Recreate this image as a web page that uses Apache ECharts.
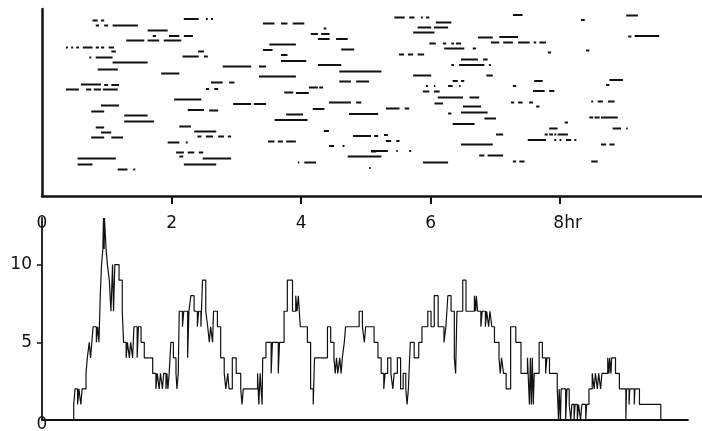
<!DOCTYPE html>
<html><head><meta charset="utf-8">
<script src="https://cdn.jsdelivr.net/npm/echarts@6/dist/echarts.min.js"></script>
<style>html,body{margin:0;padding:0;background:#fff}#c{width:702px;height:431px}</style>
</head><body><div id="c"></div>
<script>
// time tick labels (hours) and count ticks
const timeTicks = [0, 2, 4, 6, 8];
const timeTickMarks = [2, 4, 6, 8];
const timeUnit = 'hr';
const countTicks = [5, 10];
const bottomTimeLabel = [0];

// top panel: episodes [start hr, end hr, row]
const episodes = [
[0.78,0.86,35.1],[0.91,0.96,35.1],
[0.83,0.88,34.1],[0.96,1.02,34.1],[1.09,1.48,34.1],
[2.19,2.42,35.4],[2.53,2.56,35.4],[2.61,2.64,35.4],
[1.63,1.94,33.1],
[1.71,1.76,32],[1.96,2.12,32],[2.19,2.33,32],
[1.30,1.58,31.1],[1.63,1.81,31.1],[1.88,2.15,31.1],
[0.37,0.40,29.7],[0.45,0.48,29.7],[0.53,0.57,29.7],[0.63,0.78,29.7],[0.83,0.88,29.7],[0.91,0.96,29.7],[1.03,1.11,29.7],
[1.07,1.14,28.9],[2.41,2.50,28.9],
[0.73,0.76,27.7],[0.83,1.09,27.7],[2.17,2.42,27.9],[2.50,2.56,27.9],
[1.09,1.63,26.7],
[0.86,1.17,25.3],
[1.84,2.12,24.5],
[0.60,0.91,22.3],[0.96,1.02,22.2],[1.07,1.19,22.2],
[0.37,0.57,21.3],[0.68,0.76,21.3],[0.80,0.91,21.3],[0.94,1.17,21.3],
[2.53,2.58,21.4],[2.66,2.72,21.4],
[2.04,2.46,19.3],
[0.91,1.19,18.1],
[0.76,0.96,16.9],[2.25,2.50,17.2],[2.58,2.72,17.1],
[1.27,1.63,16.1],
[1.27,1.73,14.9],
[2.12,2.30,13.9],
[0.83,0.96,13.7],[2.35,2.69,12.9],
[0.91,1.07,12.7],
[0.76,0.96,11.7],[1.07,1.25,11.7],
[2.40,2.46,11.9],[2.53,2.64,11.9],[2.72,2.81,11.9],[2.87,2.92,11.9],
[1.94,2.12,10.7],[2.22,2.25,10.7],
[2.07,2.19,8.7],[2.25,2.35,8.7],[2.42,2.49,8.7],
[2.12,2.18,7.9],
[0.55,1.14,7.5],[2.48,2.92,7.5],
[0.55,0.78,6.3],[2.19,2.69,6.3],
[1.17,1.32,5.3],[1.41,1.44,5.3],
[3.41,3.59,34.5],[3.69,3.79,34.5],[3.87,4.05,34.5],
[4.35,4.39,33.5],
[4.15,4.26,32.4],[4.31,4.44,32.4],
[4.26,4.44,31.4],[4.54,4.72,31.4],
[3.51,3.92,30.3],
[3.41,3.56,29.2],[4.62,4.82,29.3],
[3.69,3.79,28.2],
[3.69,4.08,27],
[2.79,3.23,25.9],[3.35,3.46,25.9],[4.26,4.62,26.2],
[4.59,5.24,24.9],
[3.35,3.92,23.9],
[2.61,2.79,22.7],[2.89,2.97,22.7],
[4.59,4.77,22.9],[4.85,5.05,22.9],
[4.12,4.26,21.7],[4.28,4.34,21.7],
[3.74,3.88,20.7],[3.92,4.12,20.6],
[2.95,3.23,18.4],[3.27,3.46,18.4],
[4.43,4.77,18.7],[4.85,4.93,18.7],
[4.18,4.36,17.4],
[3.77,4.03,16.3],[4.74,5.19,16.4],
[3.59,4.10,15.2],
[4.35,4.43,13],
[4.80,5.08,12],[5.13,5.19,12],
[3.49,3.59,10.9],[3.64,3.72,10.9],[3.77,3.92,10.9],
[4.43,4.51,10],[4.64,4.67,10],
[5.08,5.16,8.9],
[4.72,5.24,7.9],
[3.95,3.97,6.7],[4.05,4.23,6.7],
[5.05,5.07,5.6],
[5.44,5.60,35.7],[5.67,5.75,35.7],[5.85,5.88,35.7],[5.93,5.98,35.7],
[7.27,7.42,36.2],
[6.08,6.32,34.7],
[5.80,6.01,33.7],[6.05,6.27,33.7],
[5.73,6.06,32.7],
[6.73,6.96,31.7],[7.06,7.35,31.8],
[5.98,6.08,30.5],[6.19,6.24,30.5],[6.32,6.36,30.5],[6.39,6.47,30.5],
[6.93,7.06,30.7],[7.12,7.27,30.7],[7.35,7.53,30.7],[7.59,7.63,30.7],[7.68,7.78,30.7],
[6.21,6.52,29.5],[6.65,6.70,29.5],
[5.51,5.59,28.3],[5.65,5.73,28.3],[5.80,5.90,28.3],
[6.47,6.73,27.3],[6.81,6.88,27.3],
[6.32,6.36,26.2],[6.44,6.83,26.2],[6.90,6.93,26.2],
[5.73,6.01,24.1],[6.86,6.96,24.1],
[6.34,6.42,23],[6.47,6.52,23],[7.60,7.73,23],
[5.93,5.96,22],[6.05,6.07,22],[6.27,6.34,22],[6.44,6.46,22],[7.27,7.32,22],
[5.88,5.98,20.9],[6.05,6.14,20.9],[7.58,7.76,21],[7.83,7.91,21],
[6.11,6.50,19.7],[6.60,6.75,19.7],
[6.06,6.19,18.5],
[7.24,7.29,18.7],[7.35,7.42,18.7],[7.52,7.58,18.7],
[6.50,6.78,17.9],[7.63,7.68,17.9],
[5.31,5.52,17.5],[5.60,5.67,17.5],
[6.27,6.32,16.5],[6.47,6.88,16.7],
[6.83,7.01,15.5],
[6.34,6.68,14.4],
[5.28,5.34,12.2],
[7.01,7.12,12.3],
[5.31,5.39,11],[5.47,5.52,11],
[7.50,7.78,11.2],[7.91,7.94,11.2],[7.99,8.02,11.2],[8.09,8.17,11.2],[8.22,8.25,11.2],
[6.47,6.96,10.3],
[5.08,5.34,9],[5.47,5.49,9],[5.67,5.70,9],
[6.75,6.83,8.1],[6.88,7.12,8.1],
[5.88,6.27,6.7],
[7.27,7.32,6.9],[7.37,7.45,6.9],
[9.02,9.20,36.1],
[8.32,8.38,35.2],
[9.05,9.10,31.9],[9.15,9.53,32],
[7.81,7.86,28.7],
[8.40,8.45,29.1],
[8.76,8.97,23.2],
[8.71,8.76,22.2],
[8.48,8.51,18.9],[8.58,8.66,18.9],[8.74,8.84,18.9],
[8.45,8.51,15.7],[8.53,8.61,15.7],[8.63,8.89,15.7],
[8.07,8.12,14.7],
[7.83,7.96,13.5],[8.81,8.94,13.5],[9.02,9.04,13.5],
[7.76,7.81,12.3],[7.83,7.89,12.3],[7.91,7.94,12.3],[7.96,8.12,12.3],
[8.63,8.71,10.3],[8.76,8.84,10.3],
[8.48,8.58,6.9]
];

// bottom panel: step counts [hr, count]
const activeCount = [
[0.49,0],[0.49,1],[0.51,2],[0.55,1],[0.57,2],[0.60,1],[0.62,2],[0.68,3],[0.70,4],[0.73,5],[0.75,4],[0.77,5],[0.79,6],[0.84,5],[0.86,6],[0.88,5],[0.90,8],[0.92,10],[0.94,11],[0.95,13],[0.96,11],[0.965,13],[0.99,11],[1.01,10],[1.04,9],[1.065,7],[1.09,10],[1.105,7],[1.125,10],[1.19,9],[1.24,7],[1.26,5],[1.30,4],[1.32,5],[1.35,4],[1.37,5],[1.40,4],[1.42,6],[1.47,4],[1.49,6],[1.53,5],[1.58,4],[1.71,3],[1.76,2],[1.78,3],[1.81,2],[1.83,3],[1.86,2],[1.88,3],[1.915,2],[1.93,3],[1.945,2],[1.965,3],[1.99,5],[2.03,4],[2.07,3],[2.085,2],[2.105,3],[2.12,7],[2.17,6],[2.19,7],[2.25,4],[2.27,7],[2.30,8],[2.35,7],[2.40,6],[2.42,7],[2.455,6],[2.48,9],[2.53,7],[2.56,6],[2.585,5],[2.605,6],[2.635,5],[2.65,7],[2.71,6],[2.76,4],[2.815,3],[2.84,2],[2.87,3],[2.89,2],[2.94,4],[3.00,3],[3.07,2],[3.09,1],[3.11,2],[3.33,3],[3.35,1],[3.37,3],[3.40,1],[3.41,4],[3.46,5],[3.54,3],[3.56,5],[3.65,3],[3.67,5],[3.74,7],[3.79,9],[3.87,7],[3.92,8],[3.94,7],[3.96,8],[3.99,6],[4.10,5],[4.15,2],[4.19,1],[4.21,4],[4.41,6],[4.46,5],[4.51,4],[4.53,3],[4.55,4],[4.57,3],[4.60,4],[4.62,3],[4.64,4],[4.67,5],[4.69,6],[4.90,7],[4.95,6],[4.98,5],[5.00,6],[5.13,5],[5.19,4],[5.24,3],[5.28,2],[5.30,3],[5.34,4],[5.39,3],[5.42,2],[5.44,3],[5.49,4],[5.54,2],[5.58,3],[5.62,2],[5.64,1],[5.66,2],[5.69,5],[5.75,4],[5.82,5],[5.87,6],[5.96,7],[6.01,6],[6.06,8],[6.12,6],[6.21,5],[6.24,6],[6.27,8],[6.32,7],[6.37,4],[6.39,3],[6.41,7],[6.50,9],[6.55,7],[6.68,8],[6.70,7],[6.71,8],[6.73,7],[6.78,6],[6.80,7],[6.85,6],[6.87,7],[6.90,6],[6.92,7],[6.95,6],[6.99,5],[7.06,4],[7.08,3],[7.10,4],[7.13,3],[7.17,2],[7.24,6],[7.32,5],[7.40,3],[7.50,4],[7.53,1],[7.545,4],[7.56,1],[7.575,4],[7.59,1],[7.605,3],[7.68,5],[7.73,4],[7.78,3],[7.80,4],[7.84,3],[7.96,2],[7.98,0],[7.99,2],[8.01,0],[8.02,2],[8.09,0],[8.11,2],[8.145,1],[8.17,0],[8.185,1],[8.22,0],[8.235,1],[8.27,0],[8.29,1],[8.32,0],[8.34,1],[8.40,0],[8.415,1],[8.45,2],[8.50,3],[8.53,2],[8.55,3],[8.58,2],[8.60,3],[8.63,2],[8.65,3],[8.74,4],[8.76,3],[8.77,4],[8.79,3],[8.80,4],[8.86,3],[8.92,2],[9.02,0],[9.03,2],[9.07,1],[9.08,2],[9.15,1],[9.16,2],[9.23,1],[9.56,0]
];

const ink = '#111';
const FONT = 'DejaVu Sans';
const chart = echarts.init(document.getElementById('c'), null, {renderer: 'canvas'});
chart.setOption({
  animation: false,
  backgroundColor: '#fff',
  grid: [
    {left: 42, top: 9, right: 0, bottom: 235, outerBoundsMode: 'none', containLabel: false},
    {left: 42, top: 218, right: 14, bottom: 11, outerBoundsMode: 'none', containLabel: false}
  ],
  xAxis: [
    {gridIndex: 0, type: 'value', min: 0, max: 10.19,
     axisLine: {show: true, lineStyle: {color: ink, width: 2.5}},
     axisTick: {show: true, inside: false, length: 8, customValues: timeTickMarks, lineStyle: {color: ink, width: 2}},
     axisLabel: {show: true, customValues: timeTicks, margin: 19, color: ink, fontFamily: FONT, fontSize: 17,
       formatter: v => v === timeTicks[timeTicks.length - 1] ? '{u|' + v + timeUnit + '}' : String(v),
       rich: {u: {fontFamily: FONT, fontSize: 17, color: ink, padding: [0, 0, 0, 15]}}},
     splitLine: {show: false}},
    {gridIndex: 1, type: 'value', min: 0, max: 9.98,
     axisLine: {show: true, onZero: false, lineStyle: {color: ink, width: 1.8}},
     axisTick: {show: false},
     axisLabel: {show: true, customValues: bottomTimeLabel, margin: -4, color: ink, fontFamily: FONT, fontSize: 17,
       formatter: v => String(v)},
     splitLine: {show: false}}
  ],
  yAxis: [
    {gridIndex: 0, type: 'value', min: 0, max: 37.4,
     axisLine: {show: true, lineStyle: {color: ink, width: 2.5}},
     axisTick: {show: false}, axisLabel: {show: false}, splitLine: {show: false}},
    {gridIndex: 1, type: 'value', min: 0, max: 13,
     axisLine: {show: true, lineStyle: {color: ink, width: 1.8}},
     axisTick: {show: true, inside: false, length: 5, customValues: countTicks, lineStyle: {color: ink, width: 1.5}},
     axisLabel: {show: true, customValues: countTicks, margin: 10, color: ink, fontFamily: FONT, fontSize: 17},
     splitLine: {show: false}}
  ],
  series: [
    {type: 'custom', xAxisIndex: 0, yAxisIndex: 0, data: episodes,
     encode: {x: [0, 1], y: 2},
     renderItem: (params, api) => {
       const a = api.coord([api.value(0), api.value(2)]);
       const b = api.coord([api.value(1), api.value(2)]);
       return {type: 'line', shape: {x1: a[0], y1: a[1], x2: Math.max(b[0], a[0] + 1.5), y2: b[1]},
               style: {stroke: ink, lineWidth: 2}};
     }},
    {type: 'line', xAxisIndex: 1, yAxisIndex: 1, data: activeCount, step: 'end',
     symbol: 'none', lineStyle: {color: ink, width: 1.2}}
  ]
});
</script>
</body></html>
